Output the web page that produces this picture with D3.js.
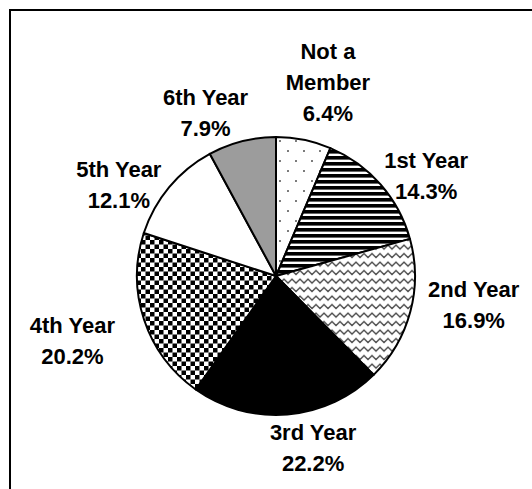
<!DOCTYPE html>
<html>
<head>
<meta charset="utf-8">
<script src="https://cdn.jsdelivr.net/npm/d3@7"></script>
<style>
  html, body { margin: 0; padding: 0; background: #fff; }
  svg { display: block; }
  text { font-family: "Liberation Sans", Arial, sans-serif; font-weight: bold; font-size: 22px; fill: #000; }
</style>
</head>
<body>
<svg id="chart" width="532" height="489"></svg>
<script>
// Membership breakdown (percent of respondents)
const categories = ["Not a Member", "1st Year", "2nd Year", "3rd Year", "4th Year", "5th Year", "6th Year"];
const percents   = [6.4, 14.3, 16.9, 22.2, 20.2, 12.1, 7.9];
const labelLines = [["Not a", "Member"], ["1st Year"], ["2nd Year"], ["3rd Year"], ["4th Year"], ["5th Year"], ["6th Year"]];

// Fill style per slice (pattern ids or plain colours)
const fills = ["url(#dots)", "url(#hstripes)", "url(#zigzag)", "#000", "url(#checker)", "#fff", "#9c9c9c"];

// Label placement: polar anchor on the mid-angle, then a small nudge
const labelRadius = 185;
const labelNudge = [[15, -12], [11, 22], [19, -19], [22, -13], [-28, 6], [-15, 27], [-25, 16]];

const W = 532, H = 489;
const cx = 276, cy = 276, radius = 139;
const lineHeight = 31, capHeight = 15.5;

const svg = d3.select("#chart");

// Frame
svg.append("rect")
  .attr("x", 10).attr("y", 10)
  .attr("width", W + 40).attr("height", H + 40)
  .attr("fill", "none").attr("stroke", "#000").attr("stroke-width", 2);

// Fill patterns
const defs = svg.append("defs");

const dots = defs.append("pattern").attr("id", "dots")
  .attr("patternUnits", "userSpaceOnUse").attr("width", 16).attr("height", 20);
dots.append("rect").attr("width", 16).attr("height", 20).attr("fill", "#fff");
dots.append("circle").attr("cx", 4).attr("cy", 5).attr("r", 0.95).attr("fill", "#444");
dots.append("circle").attr("cx", 12).attr("cy", 15).attr("r", 0.95).attr("fill", "#444");

const stripes = defs.append("pattern").attr("id", "hstripes")
  .attr("patternUnits", "userSpaceOnUse").attr("width", 6).attr("height", 6);
stripes.append("rect").attr("width", 6).attr("height", 6).attr("fill", "#fff");
stripes.append("rect").attr("y", 0).attr("width", 6).attr("height", 3.6).attr("fill", "#000");

const zig = defs.append("pattern").attr("id", "zigzag")
  .attr("patternUnits", "userSpaceOnUse").attr("width", 8).attr("height", 8.5);
zig.append("rect").attr("width", 8).attr("height", 8.5).attr("fill", "#fff");
zig.append("path").attr("d", "M-2,6 L0,3 L4,7 L8,3 L10,7")
  .attr("fill", "none").attr("stroke", "#444").attr("stroke-width", 1.4);

const checker = defs.append("pattern").attr("id", "checker")
  .attr("patternUnits", "userSpaceOnUse").attr("width", 9).attr("height", 9);
checker.append("rect").attr("width", 9).attr("height", 9).attr("fill", "#fff");
checker.append("rect").attr("x", 0).attr("y", 0).attr("width", 4.5).attr("height", 4.5).attr("fill", "#000");
checker.append("rect").attr("x", 4.5).attr("y", 4.5).attr("width", 4.5).attr("height", 4.5).attr("fill", "#000");

// Pie, clockwise from 12 o'clock in data order
const data = categories.map((c, i) => ({ name: c, value: percents[i], i }));
const pie = d3.pie().value(d => d.value).sort(null);
const arcs = pie(data);
const arc = d3.arc().innerRadius(0).outerRadius(radius);
const labelArc = d3.arc().innerRadius(labelRadius).outerRadius(labelRadius);

const g = svg.append("g").attr("transform", `translate(${cx},${cy})`);

g.selectAll("path.slice")
  .data(arcs)
  .join("path")
  .attr("class", "slice")
  .attr("d", arc)
  .attr("fill", d => fills[d.data.i])
  .attr("stroke", "#000")
  .attr("stroke-width", 2)
  .attr("stroke-linejoin", "round");

// Labels: name lines followed by the percentage
const labels = g.selectAll("text.lbl")
  .data(arcs)
  .join("text")
  .attr("class", "lbl")
  .attr("text-anchor", "middle");

labels.each(function(d) {
  const i = d.data.i;
  const [px, py] = labelArc.centroid(d);
  const x = px + labelNudge[i][0];
  const yc = py + labelNudge[i][1];
  const lines = labelLines[i].concat([d3.format(".1f")(d.data.value) + "%"]);
  const firstBaseline = yc - (lines.length - 1) * lineHeight / 2 + capHeight / 2;
  const t = d3.select(this);
  lines.forEach((ln, k) => {
    t.append("tspan")
      .attr("x", x)
      .attr("y", firstBaseline + k * lineHeight)
      .text(ln);
  });
});
</script>
</body>
</html>
